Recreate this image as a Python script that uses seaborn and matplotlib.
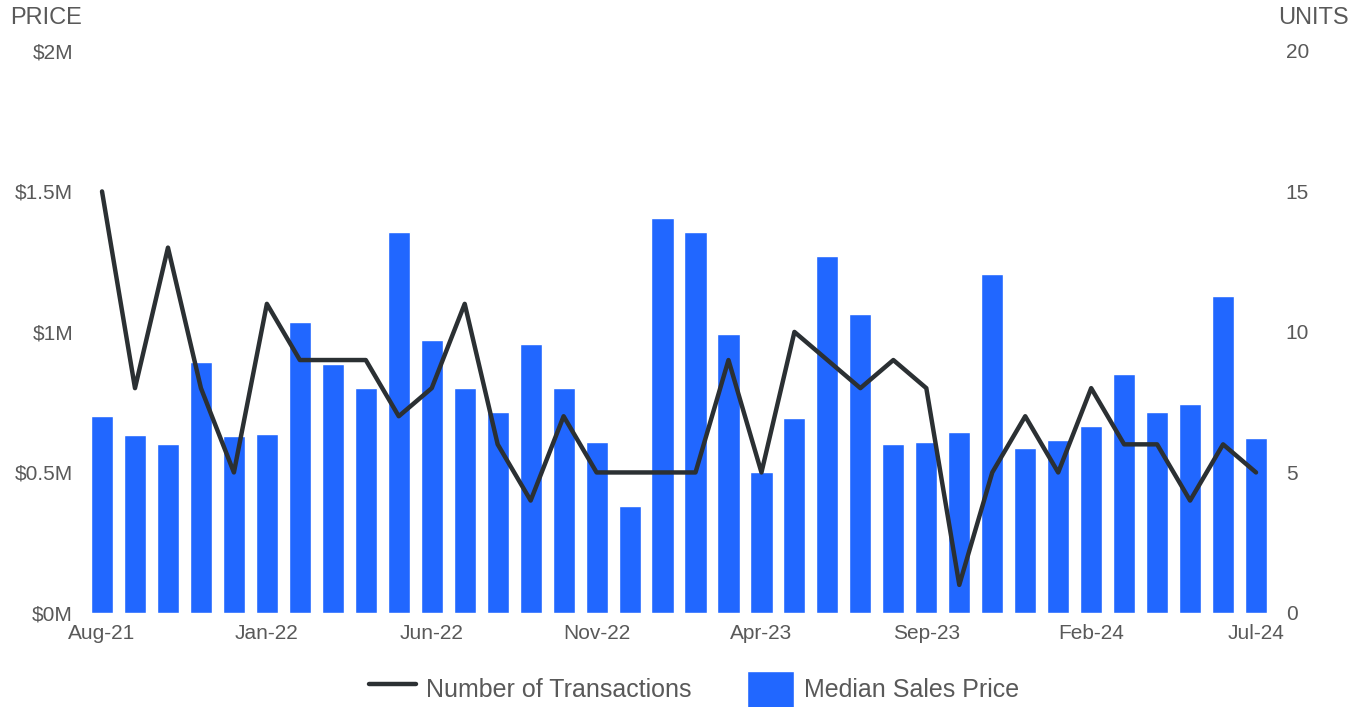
import numpy as np
import pandas as pd
import matplotlib
matplotlib.use("Agg")
import matplotlib.pyplot as plt
import seaborn as sns

# ----- DATA ----- #
months = ["Aug-21", "Sep-21", "Oct-21", "Nov-21", "Dec-21", "Jan-22", "Feb-22", "Mar-22", "Apr-22",
          "May-22", "Jun-22", "Jul-22", "Aug-22", "Sep-22", "Oct-22", "Nov-22", "Dec-22", "Jan-23",
          "Feb-23", "Mar-23", "Apr-23", "May-23", "Jun-23", "Jul-23", "Aug-23", "Sep-23", "Oct-23",
          "Nov-23", "Dec-23", "Jan-24", "Feb-24", "Mar-24", "Apr-24", "May-24", "Jun-24", "Jul-24"]
median_price = [700000, 635000, 600000, 893000, 629000, 636000, 1035000, 886000, 800000,
                1355000, 970000, 800000, 716000, 957000, 800000, 607000, 381000, 1405000,
                1355000, 993000, 500000, 693000, 1270000, 1064000, 600000, 609000, 644000,
                1206000, 586000, 616000, 665000, 851000, 716000, 745000, 1128000, 622000]
transactions = [15, 8, 13, 8, 5, 11, 9, 9, 9, 7, 8, 11, 6, 4, 7, 5, 5, 5,
                5, 9, 5, 10, 9, 8, 9, 8, 1, 5, 7, 5, 8, 6, 6, 4, 6, 5]
price_ticks = [0, 500000, 1000000, 1500000, 2000000]
price_tick_labels = ["$0M", "$0.5M", "$1M", "$1.5M", "$2M"]
unit_ticks = [0, 5, 10, 15, 20]
xtick_labels = ["Aug-21", "Jan-22", "Jun-22", "Nov-22", "Apr-23", "Sep-23", "Feb-24", "Jul-24"]

df = pd.DataFrame({"month": months, "price": median_price, "units": transactions})
df["pos"] = np.arange(len(df))

BAR_COLOR = "#2167ff"
LINE_COLOR = "#2b3033"
TEXT_COLOR = "#595959"

sns.set_style("white")
plt.rcParams["font.family"] = ["Liberation Sans", "DejaVu Sans"]

fig = plt.figure(figsize=(13.62, 7.07), dpi=100)
ax = fig.add_axes([0.0628, 0.133, 0.8715, 0.795])

sns.barplot(data=df, x="month", y="price", color=BAR_COLOR, saturation=1, width=0.67,
            label="Median Sales Price", ax=ax)
ax.set_ylim(0, 2000000)
ax.set_xlim(-0.5, len(df) - 0.5)
ax.set_yticks(price_ticks)
ax.set_yticklabels(price_tick_labels)
xt = [months.index(m) for m in xtick_labels]
ax.set_xticks(xt)
ax.set_xticklabels(xtick_labels)
ax.set_xlabel("")
ax.set_ylabel("")

ax2 = ax.twinx()
sns.lineplot(data=df, x="pos", y="units", color=LINE_COLOR, linewidth=3.2,
             label="Number of Transactions", ax=ax2)
ax2.set_ylim(0, 20)
ax2.set_yticks(unit_ticks)
ax2.set_xlim(-0.5, len(df) - 0.5)
ax2.set_ylabel("")
ax2.set_xlabel("")

for a in (ax, ax2):
    for s in a.spines.values():
        s.set_visible(False)
    a.tick_params(length=0, labelsize=15, labelcolor=TEXT_COLOR)
    if a.get_legend() is not None:
        a.get_legend().remove()
ax.tick_params(axis="y", pad=9)
ax.tick_params(axis="x", pad=8)
ax2.tick_params(axis="y", pad=9.5)

fig.text(0.0073, 1 - 18 / 707, "PRICE", ha="left", va="center", fontsize=17, color=TEXT_COLOR)
fig.text(0.99, 1 - 18 / 707, "UNITS", ha="right", va="center", fontsize=17, color=TEXT_COLOR)

h1, l1 = ax2.get_legend_handles_labels()
h2, l2 = ax.get_legend_handles_labels()
leg = fig.legend(h1 + h2, l1 + l2, loc="center", bbox_to_anchor=(0.5095, 1 - 689 / 707), ncol=2,
                 frameon=False, fontsize=18, handlelength=1.9, handleheight=1.9,
                 handletextpad=0.4, columnspacing=2.2)
for t in leg.get_texts():
    t.set_color(TEXT_COLOR)

fig.savefig("out.png", dpi=100)
